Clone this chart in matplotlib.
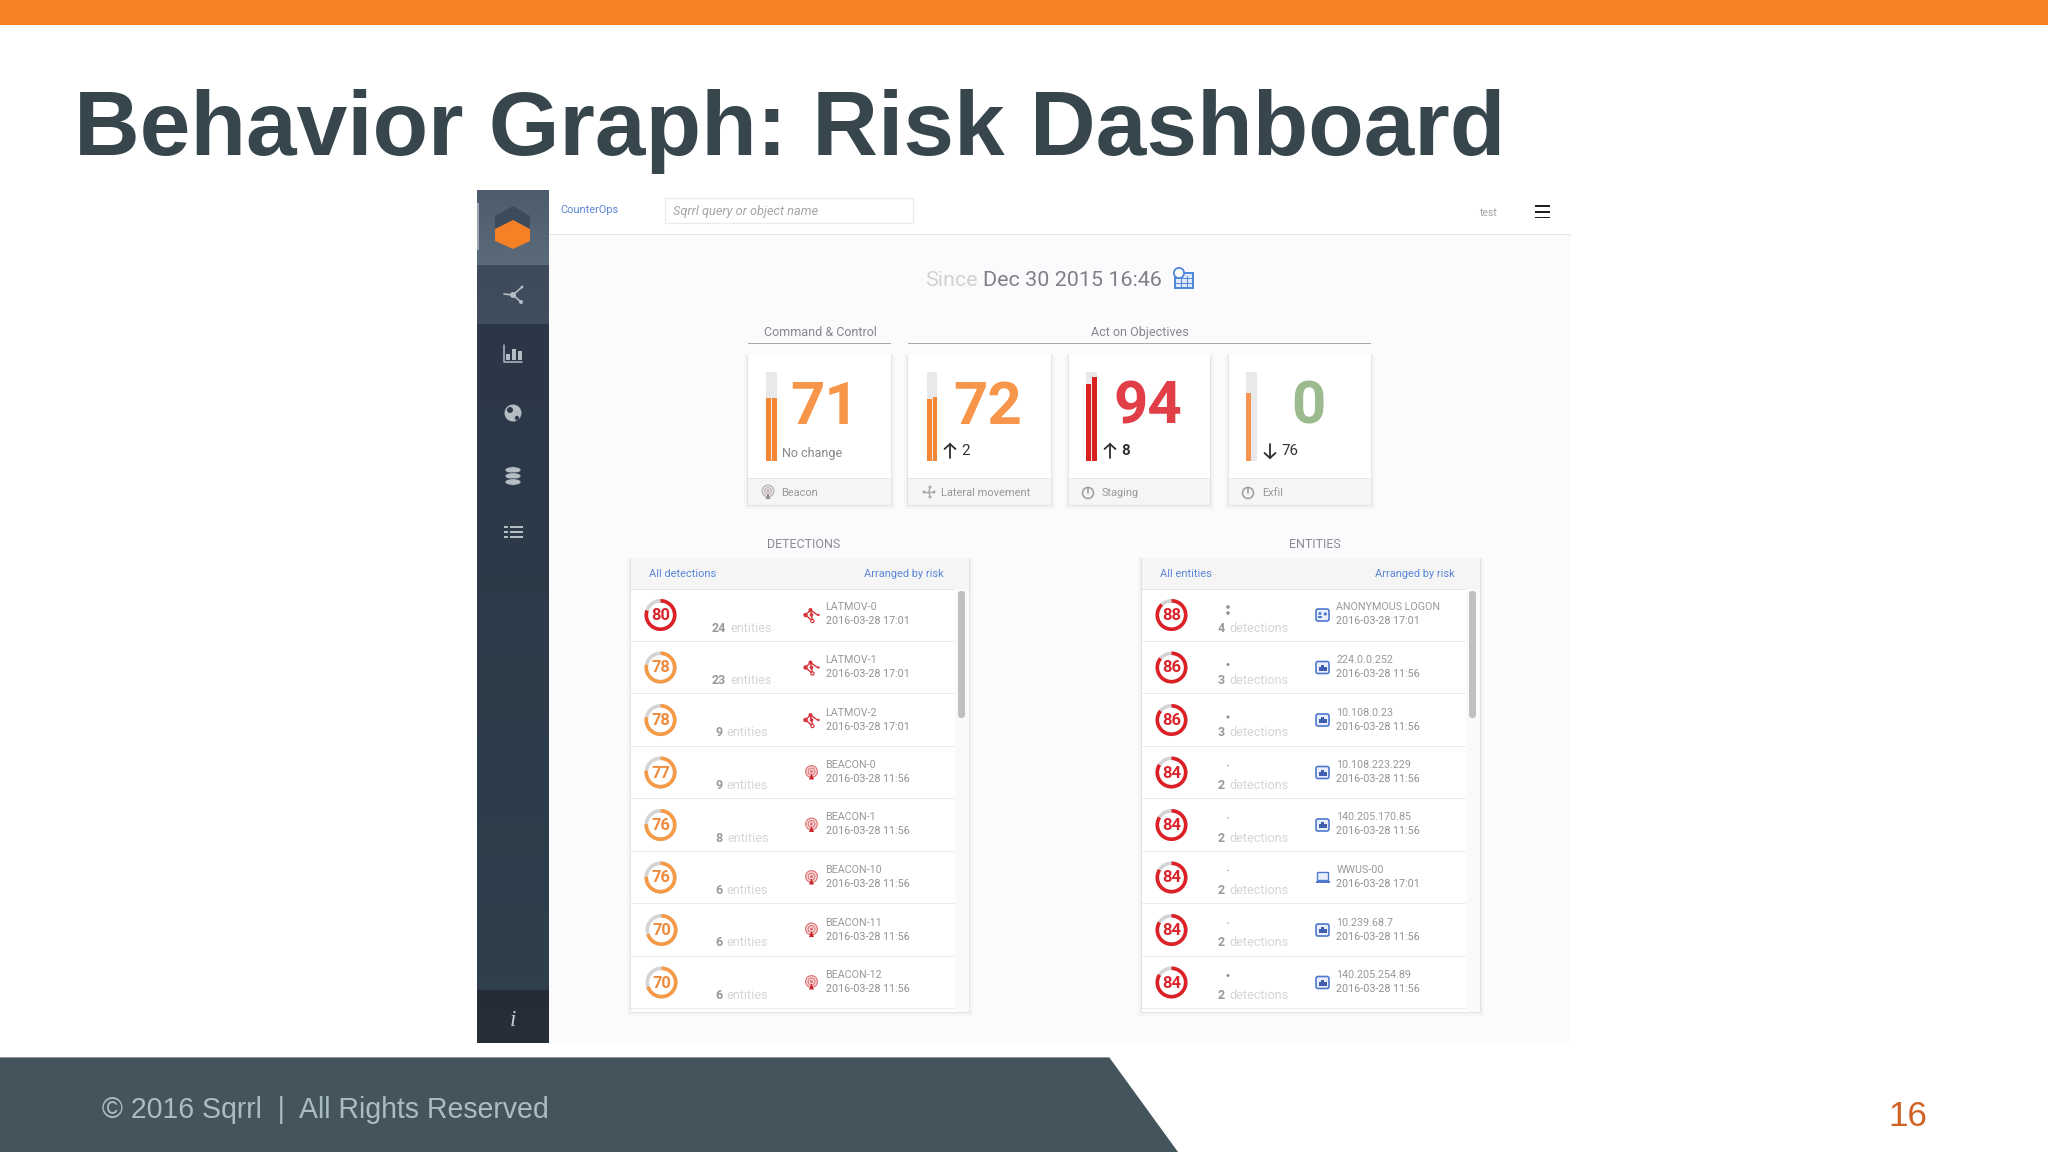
import numpy as np
import matplotlib
matplotlib.use('Agg')
import matplotlib.pyplot as plt
from matplotlib.colors import LinearSegmentedColormap
from matplotlib.patches import Rectangle, Polygon, Circle, Wedge, FancyBboxPatch, Ellipse

# kill chain cards
card_titles = ['Beacon', 'Lateral movement', 'Staging', 'Exfil']
card_scores = [71, 72, 94, 0]
card_previous = [71, 70, 86, 76]
card_changes = ['No change', '2', '8', '76']
card_colors = ['#f7964b', '#f7964b', '#e23e47', '#9bbb8e']
card_bar_colors = ['#f58634', '#f58634', '#d9201f', '#f79550']

# detections list
det_risk = [80, 78, 78, 77, 76, 76, 70, 70]
det_counts = [24, 23, 9, 9, 8, 6, 6, 6]
det_names = ['LATMOV-0', 'LATMOV-1', 'LATMOV-2', 'BEACON-0', 'BEACON-1',
             'BEACON-10', 'BEACON-11', 'BEACON-12']
det_dates = ['2016-03-28 17:01', '2016-03-28 17:01', '2016-03-28 17:01',
             '2016-03-28 11:56', '2016-03-28 11:56', '2016-03-28 11:56',
             '2016-03-28 11:56', '2016-03-28 11:56']
det_kinds = ['latmov', 'latmov', 'latmov', 'beacon', 'beacon', 'beacon', 'beacon', 'beacon']

# entities list
ent_risk = [88, 86, 86, 84, 84, 84, 84, 84]
ent_counts = [4, 3, 3, 2, 2, 2, 2, 2]
ent_dots = [2, 1, 1, 1, 1, 1, 1, 1]
ent_names = ['ANONYMOUS LOGON', '224.0.0.252', '10.108.0.23', '10.108.223.229',
             '140.205.170.85', 'WWUS-00', '10.239.68.7', '140.205.254.89']
ent_dates = ['2016-03-28 17:01', '2016-03-28 11:56', '2016-03-28 11:56',
             '2016-03-28 11:56', '2016-03-28 11:56', '2016-03-28 17:01',
             '2016-03-28 11:56', '2016-03-28 11:56']
ent_kinds = ['id', 'net', 'net', 'net', 'net', 'laptop', 'net', 'net']

W, H = 2048, 1152
UI = 'Roboto'
SLIDE = 'Liberation Sans'
BLUE = '#5b86d6'
GREY = '#8d8f93'

fig = plt.figure(figsize=(W / 100, H / 100), dpi=100, facecolor='white')
ax = fig.add_axes([0, 0, 1, 1])
ax.axis('off')


def px(size):
    # font size from a height in pixels
    return size * 0.72


def rect(x0, y0, x1, y1, color, z=1, **kw):
    ax.add_patch(Rectangle((x0, y0), x1 - x0, y1 - y0, facecolor=color, edgecolor='none', zorder=z, **kw))


def gradient(x0, y0, x1, y1, top, bottom, z=1):
    cmap = LinearSegmentedColormap.from_list('g', [top, bottom])
    ax.imshow(np.linspace(0, 1, 64).reshape(-1, 1), extent=(x0, x1, y1, y0), cmap=cmap,
              aspect='auto', zorder=z)


def label(x, y, s, size, color=GREY, ha='left', weight='normal', style='normal', family=UI, z=6):
    return ax.text(x, y, s, fontsize=px(size), color=color, ha=ha, va='center', fontweight=weight,
                   fontstyle=style, family=family, zorder=z)


def shadow_box(x0, y0, x1, y1, z=2):
    for grow, col in [(4, '#f6f6f8'), (2, '#f0f0f2'), (1, '#e4e4e6')]:
        rect(x0 - grow, y0, x1 + grow, y1 + grow, col, z=z)
    rect(x0, y0, x1, y1, 'white', z=z)


def dot(x, y, r, color, z=6):
    ax.add_patch(Circle((x, y), r, facecolor=color, edgecolor='none', zorder=z))


def ring(x, y, value):
    color = '#dd1f26' if value >= 80 else '#f79a45'
    txt = '#d9242c' if value >= 80 else '#ef8a3c'
    ax.add_patch(Wedge((x, y), 16, 0, 360, width=3.6, facecolor='#d4d4d6', edgecolor='none', zorder=5))
    ax.add_patch(Wedge((x, y), 16, -90, -90 + 3.6 * value, width=3.6, facecolor=color, edgecolor='none', zorder=6))
    label(x, y + 0.5, str(value), 16.5, color=txt, ha='center', weight='bold')


def line(xs, ys, color, lw=1.0, z=6):
    ax.plot(xs, ys, color=color, lw=lw, solid_capstyle='round', zorder=z)


def icon_latmov(x, y):
    c = '#d9333b'
    line([x - 6, x - 1, x + 6], [y, y - 5, y], c, 1.0)
    line([x - 6, x + 1], [y, y + 6], c, 1.0)
    line([x - 1, x + 1], [y - 5, y + 6], c, 1.0)
    for dx, dy, r in [(-6, 0, 2.2), (-1, -5, 2.0), (0, 0, 1.8), (7, 0, 1.2), (1, 6, 2.2)]:
        dot(x + dx, y + dy, r, c)
    dot(x + 1, y + 6, 1.0, 'white', z=7)


def icon_beacon(x, y, color='#e0787c', dark='#c9252c'):
    for r, col in [(6.5, color), (5.2, '#f9e4e4'), (4.0, color), (2.8, '#f9e4e4'), (1.6, color)]:
        dot(x, y - 1, r, col)
    ax.add_patch(Polygon([(x - 2.5, y + 7), (x + 2.5, y + 7), (x, y + 1)], facecolor=dark, edgecolor='none', zorder=7))


def icon_entity(x, y, kind):
    c = '#4f79cf'
    if kind == 'laptop':
        ax.add_patch(Rectangle((x - 5.5, y - 6), 11, 8, facecolor='#eaf0fb', edgecolor=c, lw=1.0, zorder=6))
        rect(x - 7, y + 3, x + 7, y + 5, c, z=6)
        return
    ax.add_patch(FancyBboxPatch((x - 6.5, y - 6), 13, 12, boxstyle='round,pad=0,rounding_size=2',
                                facecolor='#e8eefa', edgecolor=c, lw=1.2, zorder=6))
    if kind == 'net':
        rect(x - 4, y - 1, x + 4, y + 3, '#3f5fae', z=7)
        rect(x - 1.5, y - 3, x + 1.5, y - 1, '#3f5fae', z=7)
    else:
        dot(x - 2.5, y - 1.5, 1.5, c, z=7)
        rect(x - 4.5, y + 0.5, x - 0.5, y + 2.5, c, z=7)
        dot(x + 2.8, y - 1, 1.6, c, z=7)


# slide frame
rect(0, 0, W, 25, '#f58025')
ax.text(74, 155, 'Behavior Graph: Risk Dashboard', fontsize=65.5, fontweight='bold', family=SLIDE,
        color='#37454c', ha='left', va='baseline', zorder=6)
ax.add_patch(Polygon([(0, 1057), (1109, 1057), (1178, 1152), (0, 1152)], facecolor='#44545c', edgecolor='none', zorder=1))
rect(0, 1057, 1109, 1058, '#8f999e', z=2)
label(102, 1110, '\u00a9 2016 Sqrrl  |  All Rights Reserved', 28.5, color='#a9bcc4', family=SLIDE)
label(1908, 1116, '16', 35, color='#cf6226', ha='center', family=SLIDE)

# screenshot background and top bar
rect(477, 190, 1571, 1043, '#fbfbfd')
rect(549, 190, 1571, 234, 'white', z=2)
rect(549, 234, 1571, 235, '#e4e4e6', z=2)
ax.add_patch(Rectangle((665, 198), 248, 25, facecolor='white', edgecolor='#ececee', lw=1, zorder=3))
label(673, 211, 'Sqrrl query or object name', 12.8, color='#a3a5a8', style='italic')
label(560, 210, 'CounterOps', 11, color=BLUE)
label(1488, 212.5, 'test', 10.5, color='#a0a2a5', ha='center')
for y in [206, 212, 217.5]:
    rect(1535, y - 0.9, 1550, y + 0.9, '#1d1f22', z=4)

# side bar
gradient(477, 190, 549, 265, '#4d5c6c', '#5c6b7a', z=2)
gradient(477, 265, 549, 324, '#3d4a5b', '#414e5f', z=2)
gradient(477, 324, 549, 990, '#2b3747', '#2f3f4c', z=2)
gradient(477, 990, 549, 1043, '#242c37', '#262f3a', z=2)
rect(477, 203, 479, 250, '#9aa5af', z=3)
ax.add_patch(Polygon([(513, 206), (530, 216), (530, 230), (495, 230), (495, 216)], facecolor='#3c4b5c', edgecolor='none', zorder=3))
ax.add_patch(Polygon([(513, 220), (530, 229), (530, 241), (513, 249), (495, 241), (495, 229)], facecolor='#f58025', edgecolor='none', zorder=4))

side = '#b4bcc4'
# graph icon
for dx, dy in [(-9, -1), (9, -8), (8, 7)]:
    line([513, 513 + dx], [295, 295 + dy], side, 1.2)
dot(513, 295, 3, side)
dot(521, 302, 2, side)
dot(522, 287, 1.4, side)
# bar icon
line([504, 504, 522], [345, 362, 362], side, 1.1)
for dx, top in [(4, 354), (10, 349), (16, 351)]:
    rect(504 + dx - 1.8, top, 504 + dx + 1.8, 360, side, z=4)
# globe icon
dot(513, 413, 8.5, side, z=4)
dot(510, 410, 3.0, '#2e3b4b', z=5)
dot(517, 418, 2.2, '#2e3b4b', z=5)
# database icon
for dy in [-6, 0, 6]:
    ax.add_patch(Ellipse((513, 476 + dy), 16, 6.5, facecolor=side, edgecolor='#2e3b4b', lw=0.5, zorder=4))
# list icon
for dy in [-6, -1, 4]:
    rect(510, 532 + dy, 523, 532 + dy + 2, side, z=4)
    rect(504, 532 + dy, 508, 532 + dy + 2, side, z=4)
ax.text(513, 1021, 'i', fontsize=px(23), style='italic', family='Liberation Serif', color='#c9ced3',
        ha='center', va='center', zorder=4)

# date line
label(925, 280, 'Since', 21.5, color='#d0d1d3')
label(983, 280, 'Dec 30 2015 16:46', 21.5, color='#7e8083')
ax.add_patch(Rectangle((1175, 273), 18, 15, facecolor='#dfe9f9', edgecolor='#4f86d9', lw=1.4, zorder=5))
for v in [1181, 1187]:
    line([v, v], [276, 288], '#4f86d9', 0.7)
for v in [278, 283]:
    line([1175, 1193], [v, v], '#4f86d9', 0.7)
dot(1179, 273, 6, '#4f86d9', z=7)
dot(1179, 273, 4.2, 'white', z=7)

# section headings
label(820, 332.5, 'Command & Control', 12.5, color='#85878a', ha='center')
label(1140, 332.5, 'Act on Objectives', 12.5, color='#85878a', ha='center')
rect(748, 342.5, 891, 343.5, '#a8a9ab', z=2)
rect(908, 342.5, 1371, 343.5, '#a8a9ab', z=2)

# cards
card_x = [(748, 891), (908, 1051), (1069, 1210), (1229, 1371)]
bar_x = [(766, 777), (927, 937), (1086, 1097), (1246, 1257)]
score_x = [825, 988, 1148, 1308]
arrow_x = [None, 950, 1110, 1270]
card_icon_x = [768, 928, 1088, 1248]
BAR_BASE, BAR_FULL = 461, 89
for i, (x0, x1) in enumerate(card_x):
    shadow_box(x0, 355, x1, 505)
    rect(x0, 478, x1, 505, '#f5f5f6', z=3)
    rect(x0, 477.5, x1, 478.5, '#e8e8ea', z=3)
    bx0, bx1 = bar_x[i]
    mid = (bx0 + bx1) / 2
    bw = (bx1 - bx0 - 1) / 2
    ax.bar(mid, -BAR_FULL, width=bx1 - bx0, bottom=BAR_BASE, color='#e9e9eb', zorder=3)
    ax.bar(mid - 0.5 - bw / 2, -BAR_FULL * card_previous[i] / 100, width=bw, bottom=BAR_BASE,
           color=card_bar_colors[i], zorder=4)
    ax.bar(mid + 0.5 + bw / 2, -BAR_FULL * card_scores[i] / 100, width=bw, bottom=BAR_BASE,
           color=card_bar_colors[i], zorder=4)
    label(score_x[i], 408, str(card_scores[i]), 60, color=card_colors[i], ha='center', weight='bold')
    # label in the card foot
    label(x0 + 33, 492.5, card_titles[i], 11, color='#97999c')
    if i == 0:
        icon_beacon(card_icon_x[i], 492, color='#b5b7ba', dark='#8d8f92')
    elif i == 1:
        for dx, dy in [(-5, 0), (1, -5), (1, 5), (5, 0)]:
            line([card_icon_x[i] + 1, card_icon_x[i] + 1 + dx], [492, 492 + dy], '#a6a8ab', 1.0)
            dot(card_icon_x[i] + 1 + dx, 492 + dy, 1.5, '#a6a8ab')
    else:
        ax.add_patch(Circle((card_icon_x[i], 493), 5.5, facecolor='none', edgecolor='#9a9c9f', lw=1.1, zorder=6))
        line([card_icon_x[i]] * 2, [488, 493], '#9a9c9f', 1.1)
    if i == 0:
        label(782, 453.5, card_changes[i], 12.5, color='#85878a')
    else:
        ax_ = arrow_x[i]
        up = card_scores[i] >= card_previous[i]
        tip, tail = (444, 458) if up else (458, 444)
        head = tip + (5 if up else -5)
        line([ax_, ax_], [tail, tip], '#2b2d30', 1.3)
        line([ax_ - 5.5, ax_, ax_ + 5.5], [head, tip, head], '#2b2d30', 1.3)
        label(ax_ + 11, 451, card_changes[i], 15, color='#2f3134', weight='bold' if i == 2 else 'normal')

# list panels
renderer = fig.canvas.get_renderer()
ROW0, ROW_H = 615, 52.5


def panel(x0, x1, title, title_x, left_text, counts, risk, names, dates, kinds, unit, count_cx, dots=None):
    label(title_x, 544.5, title, 12.5, color='#8a8c8f', ha='center')
    shadow_box(x0, 558, x1, 1012)
    rect(x0, 558, x1, 589, '#f5f5f6', z=3)
    rect(x0, 588.5, x1, 589.5, '#e6e6e8', z=3)
    label(x0 + 18, 574, left_text, 11, color=BLUE)
    label(x1 - 25, 574, 'Arranged by risk', 11, color=BLUE, ha='right')
    # scroll track and thumb
    rect(x1 - 14, 589, x1, 1012, '#fafafb', z=3)
    ax.add_patch(FancyBboxPatch((x1 - 11, 591), 7, 127, boxstyle='round,pad=0,rounding_size=3',
                                facecolor='#bfc0c2', edgecolor='none', zorder=4))
    for i in range(len(risk)):
        cy = ROW0 + ROW_H * i
        rect(x0, cy + 25.5, x1 - 14, cy + 26.5, '#ececee', z=3)
        ring(x0 + 29.5 + (1 if risk[i] == 70 else 0), cy, risk[i])
        # count and unit are centred together as one string
        num = label(0, cy + 13, str(counts[i]), 12.5, color='#97999c', weight='bold')
        word = label(0, cy + 13, unit, 12.5, color='#d4d5d7')
        nw = num.get_window_extent(renderer).width
        ww = word.get_window_extent(renderer).width
        start = count_cx - (nw + 4 + ww) / 2
        num.set_x(start)
        word.set_x(start + nw + 4)
        tx = x0 + 194.5
        label(tx, cy - 7.5, names[i], 10.7, color='#97999c')
        label(tx, cy + 6.5, dates[i], 10.7, color='#8f9194')
        ic = tx - 14
        if kinds[i] == 'latmov':
            icon_latmov(ic, cy)
        elif kinds[i] == 'beacon':
            icon_beacon(ic, cy)
        else:
            icon_entity(ic, cy, kinds[i])
        if dots is not None:
            dx = count_cx - 25
            if dots[i] == 2:
                dot(dx, cy - 8, 1.8, '#8f9194')
                dot(dx, cy - 2, 1.8, '#8f9194')
            elif counts[i] == 3:
                dot(dx, cy - 3, 1.5, '#8f9194')
            else:
                dot(dx, cy - 7, 1.5 if i == 7 else 0.7, '#8f9194')


panel(631, 969, 'DETECTIONS', 804, 'All detections', det_counts, det_risk, det_names, det_dates,
      det_kinds, 'entities', 742)
panel(1142, 1480, 'ENTITIES', 1315, 'All entities', ent_counts, ent_risk, ent_names, ent_dates,
      ent_kinds, 'detections', 1253, dots=ent_dots)

ax.set_xlim(0, W)
ax.set_ylim(H, 0)
fig.savefig('out.png', dpi=100)
plt.close(fig)
